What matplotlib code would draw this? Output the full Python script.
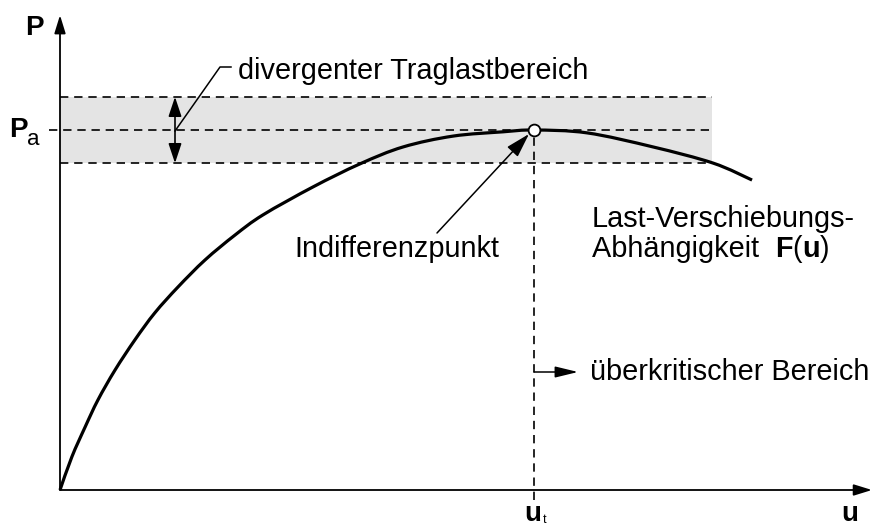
import matplotlib
matplotlib.use("Agg")
import matplotlib.pyplot as plt
from matplotlib.path import Path
from matplotlib.patches import PathPatch

# ---------------- data (relative units: u/u_t, P/P_a) ----------------
u_curve = [0.0, 0.025, 0.053, 0.080, 0.116, 0.158, 0.200, 0.249, 0.306, 0.369,
           0.428, 0.534, 0.633, 0.724, 0.829, 0.935, 1.0, 1.112, 1.251, 1.378, 1.460]
P_curve = [0.0, 0.092, 0.175, 0.250, 0.333, 0.417, 0.492, 0.564, 0.639, 0.708,
           0.764, 0.842, 0.906, 0.953, 0.983, 0.995, 1.0, 0.992, 0.953, 0.908, 0.861]
u_t = 1.0            # indifference point displacement
P_a = 1.0            # load at indifference point
band_low = 0.908     # divergent load range (lower)
band_high = 1.092    # divergent load range (upper)
band_end = 1.376
u_axis_end = 1.713
P_axis_end = 1.319

texts_main = ["divergenter Traglastbereich", "Indifferenzpunkt",
              "Last-Verschiebungs-", "Abhängigkeit", "überkritischer Bereich"]

# ---------------- figure ----------------
W, H = 879, 526
fig = plt.figure(figsize=(W / 100, H / 100), dpi=100)
ax = fig.add_axes([0, 0, 1, 1])
ax.set_axis_off()

# pixel <-> data mapping (origin at pixel (60, 490))
X0, Y0, SX, SY = 60, 490, 474, 360
ax.set_xlim(-X0 / SX, (W - X0) / SX)
ax.set_ylim((Y0 - H) / SY, Y0 / SY)


def px(x, y):
    return (x - X0) / SX, (Y0 - y) / SY


FONT = "Liberation Sans"
FS = 20.8
BFS = 20

# grey band
ax.fill_between([0, band_end], band_low, band_high, color="#e4e4e4", lw=0, zorder=1)

dash = (0, (5, 3.5))
ax.plot([0, band_end], [band_high, band_high], color="k", lw=1.2, ls=dash, zorder=2)
ax.plot([0, band_end], [band_low, band_low], color="k", lw=1.2, ls=dash, zorder=2)
ax.plot([px(49, 0)[0], band_end], [P_a, P_a], color="k", lw=1.2, ls=dash, zorder=2)
ax.plot([u_t, u_t], [px(0, 500)[1], P_a], color="k", lw=1.2, ls=dash, zorder=2)

# axes with arrows
ap_axis = dict(arrowstyle="-|>,head_length=0.55,head_width=0.17", lw=1.3,
               color="k", shrinkA=0, shrinkB=0, mutation_scale=20)
ax.annotate("", xy=(u_axis_end, 0), xytext=(0, 0), arrowprops=ap_axis, zorder=3)
ax.annotate("", xy=(0, P_axis_end), xytext=(0, 0), arrowprops=ap_axis, zorder=3)

# curve: smooth Catmull-Rom (as cubic Bezier) through the read points
pts = list(zip(u_curve, P_curve))
n = len(pts)
verts = [pts[0]]
codes = [Path.MOVETO]
for i in range(n - 1):
    p0 = pts[i - 1] if i > 0 else pts[i]
    p1 = pts[i]
    p2 = pts[i + 1]
    p3 = pts[i + 2] if i + 2 < n else pts[i + 1]
    c1 = (p1[0] + (p2[0] - p0[0]) / 6, p1[1] + (p2[1] - p0[1]) / 6)
    c2 = (p2[0] - (p3[0] - p1[0]) / 6, p2[1] - (p3[1] - p1[1]) / 6)
    verts += [c1, c2, p2]
    codes += [Path.CURVE4] * 3
ax.add_patch(PathPatch(Path(verts, codes), fill=False, ec="k", lw=2.3,
                       capstyle="butt", zorder=4))

# indifference point
ax.plot([u_t], [P_a], marker="o", ms=8.5, mfc="white", mec="k", mew=1.3, zorder=6)

# double arrow for divergent range
xa = px(175, 0)[0]
ax.annotate("", xy=(xa, band_high), xytext=(xa, band_low),
            arrowprops=dict(arrowstyle="<|-|>,head_length=0.6,head_width=0.2", lw=1.2,
                            color="k", shrinkA=0, shrinkB=0, mutation_scale=20), zorder=5)

# leader for divergent label
lx = [px(175, 131)[0], px(220, 67)[0], px(231, 67)[0]]
ly = [px(175, 131)[1], px(220, 67)[1], px(231, 67)[1]]
ax.plot(lx, ly, color="k", lw=1.1, zorder=5)
ax.text(*px(238, 79), texts_main[0], fontsize=FS, family=FONT, ha="left", va="baseline")

# Indifferenzpunkt arrow + label
ax.annotate("", xy=px(529, 134), xytext=px(437, 233),
            arrowprops=dict(arrowstyle="-|>,head_length=0.75,head_width=0.22", lw=1.1,
                            color="k", shrinkA=0, shrinkB=0, mutation_scale=20), zorder=5)
ax.text(*px(397, 257), texts_main[1], fontsize=FS, family=FONT, ha="center", va="baseline")

# curve label
ax.text(*px(592, 227), texts_main[2], fontsize=FS, family=FONT, ha="left", va="baseline")
t = ax.text(*px(592, 257), texts_main[3] + "  ", fontsize=FS, family=FONT, ha="left", va="baseline")
fig.canvas.draw()
r = fig.canvas.get_renderer()
xpix = t.get_window_extent(r).x1
t2 = ax.text(*px(xpix, 257), "F", fontsize=FS, family=FONT, weight="bold", ha="left", va="baseline")
xpix = t2.get_window_extent(r).x1
t3 = ax.text(*px(xpix, 257), "(", fontsize=FS, family=FONT, ha="left", va="baseline")
xpix = t3.get_window_extent(r).x1
t4 = ax.text(*px(xpix, 257), "u", fontsize=FS, family=FONT, weight="bold", ha="left", va="baseline")
xpix = t4.get_window_extent(r).x1
ax.text(*px(xpix, 257), ")", fontsize=FS, family=FONT, ha="left", va="baseline")

# supercritical range arrow + label
ax.annotate("", xy=px(578, 372), xytext=(u_t, px(0, 372)[1]),
            arrowprops=dict(arrowstyle="-|>,head_length=0.7,head_width=0.17", lw=1.1,
                            color="k", shrinkA=0, shrinkB=0, mutation_scale=20), zorder=5)
ax.text(*px(590, 380), texts_main[4], fontsize=FS, family=FONT, ha="left", va="baseline")

# axis labels
ax.text(*px(25, 35), "P", fontsize=BFS, family=FONT, weight="bold", ha="left", va="baseline")
ax.text(*px(9, 137), "P", fontsize=BFS, family=FONT, weight="bold", ha="left", va="baseline")
ax.text(*px(27, 145), "a", fontsize=16, family=FONT, ha="left", va="baseline")
ax.text(*px(850, 521), "u", fontsize=BFS, family=FONT, weight="bold", ha="center", va="baseline")
ax.text(*px(533, 521), "u", fontsize=BFS, family=FONT, weight="bold", ha="center", va="baseline")
ax.text(*px(543, 523), "t", fontsize=9, family=FONT, ha="left", va="baseline")

fig.savefig("out.png", dpi=100)
